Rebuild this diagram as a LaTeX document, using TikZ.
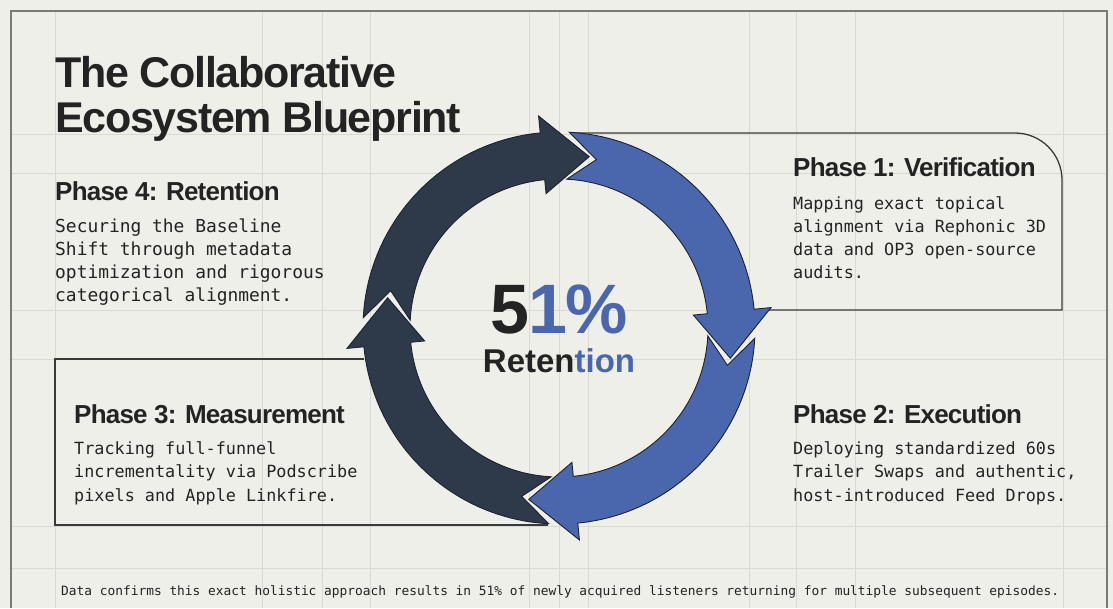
\documentclass[tikz,border=0pt]{standalone}
\usepackage{fontspec}
\setmainfont{Liberation Sans}
\setmonofont{DejaVu Sans Mono}
\newfontfamily\headfont{Liberation Sans}[LetterSpace=-3.0]
\usetikzlibrary{positioning}

\definecolor{paper}{HTML}{EFEFEA}
\definecolor{gridgrey}{HTML}{D9D9D3}
\definecolor{framegrey}{HTML}{7A7A76}
\definecolor{boxgrey}{HTML}{3A3A3A}
\definecolor{ink}{HTML}{232323}
\definecolor{ringdark}{HTML}{2E3949}
\definecolor{ringblue}{HTML}{4A67AE}
\definecolor{arrowedge}{HTML}{1C2330}

\begin{document}
\begin{tikzpicture}[x=1pt, y=1pt,
    gridline/.style={draw=gridgrey, line width=0.8pt},
    boxline/.style={draw=boxgrey, line width=1.3pt},
    ringarrow/.style={draw=arrowedge, line width=0.9pt, line join=miter},
    titletext/.style={anchor=base west, inner sep=0pt, align=left, text=ink,
      font=\headfont\bfseries\fontsize{43}{45}\selectfont},
    headtext/.style={anchor=base west, inner sep=0pt, text=ink,
      font=\headfont\bfseries\fontsize{26}{30}\selectfont},
    bodytext/.style={anchor=base west, inner sep=0pt, align=left, text=ink,
      font=\ttfamily\fontsize{16.8}{23}\selectfont}]

  % paper and frame
  \fill[paper] (0,0) rectangle (1113,608);
  \useasboundingbox (0,0) rectangle (1113,608);
  \draw[gridline]
    (55,0) -- (55,597) (262,0) -- (262,597) (322,0) -- (322,597)
    (370,0) -- (370,597) (529,0) -- (529,597) (559,0) -- (559,597)
    (588,0) -- (588,597) (749,0) -- (749,597) (796,0) -- (796,597)
    (855,0) -- (855,597) (1063,0) -- (1063,597)
    (11,474) -- (1107,474) (11,435) -- (1107,435) (11,298) -- (1107,298)
    (11,249) -- (1107,249) (11,82) -- (1107,82) (11,40) -- (1107,40);
  \draw[framegrey, line width=1.2pt] (11,0) -- (11,597) -- (1107,597) -- (1107,0);

  % phase boxes (open on the ring side)
  \draw[boxline] (755,298) -- (1062,298) -- (1062,428)
    arc[start angle=0, end angle=90, radius=47] -- (575,475);
  \draw[boxline] (364,249) -- (55,249) -- (55,83) -- (548,83);

  % ring of four arrows
  \begin{scope}[shift={(559,280)}]
    \draw[ringarrow, fill=ringdark] (177:196) arc[start angle=177, end angle=95.5, radius=196]
      -- (95.5:213) -- (80:174) -- (95.5:135) -- (95.5:149)
      arc[start angle=95.5, end angle=177, radius=149] -- (167.5:172.5) -- cycle;
    \draw[ringarrow, fill=ringblue] (87:196) arc[start angle=87, end angle=5.5, radius=196]
      -- (5.5:213) -- (-10:174) -- (5.5:135) -- (5.5:149)
      arc[start angle=5.5, end angle=87, radius=149] -- (77.5:172.5) -- cycle;
    \draw[ringarrow, fill=ringblue] (-3:196) arc[start angle=-3, end angle=-84.5, radius=196]
      -- (-84.5:213) -- (-100:174) -- (-84.5:135) -- (-84.5:149)
      arc[start angle=-84.5, end angle=-3, radius=149] -- (-12.5:172.5) -- cycle;
    \draw[ringarrow, fill=ringdark] (267:196) arc[start angle=267, end angle=185.5, radius=196]
      -- (185.5:213) -- (170:174) -- (185.5:135) -- (185.5:149)
      arc[start angle=185.5, end angle=267, radius=149] -- (257.5:172.5) -- cycle;
  \end{scope}

  % centre figure
  \node[anchor=base, inner sep=0pt, font=\headfont\bfseries\fontsize{70}{75}\selectfont]
    (share) at (559,274) {\textcolor{ink}{5}\textcolor{ringblue}{1\%}};
  \node[anchor=base, inner sep=0pt, font=\bfseries\fontsize{33}{36}\selectfont]
    (shareword) at (559,235) {\textcolor{ink}{Reten}\textcolor{ringblue}{tion}};

  % title (base anchor sits on the last line)
  \node[titletext] (title) at (55,475) {The Collaborative\\Ecosystem Blueprint};

  % phase texts
  \node[headtext] (ret) at (55,407) {Phase 4: Retention};
  \node[bodytext, font=\ttfamily\fontsize{17.9}{23}\selectfont] (retbody) at (55,306)
    {Securing the Baseline\\Shift through metadata\\optimization and rigorous\\categorical alignment.};
  \node[headtext] (ver) at (793,431) {Phase 1: Verification};
  \node[bodytext] (verbody) at (793,329)
    {Mapping exact topical\\alignment via Rephonic 3D\\data and OP3 open-source\\audits.};
  \node[headtext] (mea) at (74,185) {Phase 3: Measurement};
  \node[bodytext] (meabody) at (74,107)
    {Tracking full-funnel\\incrementality via Podscribe\\pixels and Apple Linkfire.};
  \node[headtext] (exe) at (793,185) {Phase 2: Execution};
  \node[bodytext] (exebody) at (793,107)
    {Deploying standardized 60s\\Trailer Swaps and authentic,\\host-introduced Feed Drops.};

  % footnote
  \node[anchor=base west, inner sep=0pt, text=ink, font=\ttfamily\fontsize{12.85}{15}\selectfont]
    (note) at (61,13) {Data confirms this exact holistic approach results in 51\% of newly acquired listeners returning for multiple subsequent episodes.};
\end{tikzpicture}
\end{document}
